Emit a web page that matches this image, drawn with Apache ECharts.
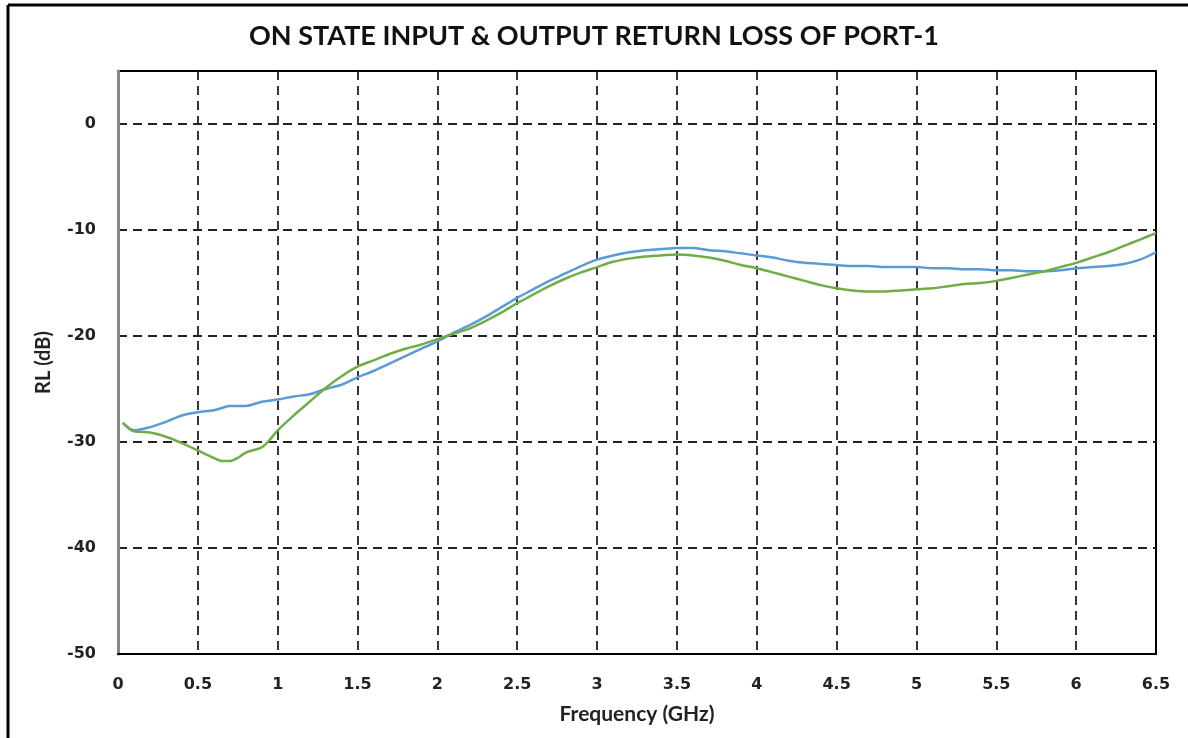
<!DOCTYPE html>
<html>
<head>
<meta charset="utf-8">
<script src="https://cdn.jsdelivr.net/npm/echarts@6/dist/echarts.min.js"></script>
<style>
  html, body { margin: 0; padding: 0; background: #fff; }
  #main { width: 1188px; height: 738px; }
</style>
</head>
<body>
<div id="main"></div>
<script>
// frequency points (GHz)
var freq = [0.03,0.1,0.2,0.3,0.4,0.5,0.6,0.65,0.7,0.75,0.8,0.9,0.95,1.0,1.1,1.2,1.3,1.4,1.5,1.6,1.7,1.8,1.9,2.0,
  2.1,2.2,2.3,2.4,2.5,2.6,2.7,2.8,2.9,3.0,3.1,3.2,3.3,3.4,3.5,3.6,3.7,3.8,3.9,4.0,4.1,4.2,4.3,4.4,4.5,4.6,4.7,
  4.8,4.9,5.0,5.1,5.2,5.3,5.4,5.5,5.6,5.7,5.8,5.9,6.0,6.1,6.2,6.3,6.4,6.5];

// blue trace (dB)
var rlBlue = [-28.2,-28.9,-28.6,-28.1,-27.5,-27.2,-27.0,-26.8,-26.6,-26.6,-26.6,-26.2,-26.1,-26.0,-25.7,-25.5,-25.0,-24.6,-23.9,-23.3,-22.6,-21.9,-21.2,-20.5,
  -19.7,-19.0,-18.2,-17.3,-16.4,-15.6,-14.8,-14.1,-13.4,-12.8,-12.4,-12.1,-11.9,-11.8,-11.7,-11.7,-11.9,-12.0,-12.2,-12.4,-12.6,-12.9,-13.1,-13.2,-13.3,-13.4,-13.4,
  -13.5,-13.5,-13.5,-13.6,-13.6,-13.7,-13.7,-13.8,-13.8,-13.9,-13.9,-13.8,-13.6,-13.5,-13.4,-13.2,-12.8,-12.1];

// green trace (dB)
var rlGreen = [-28.2,-29.0,-29.1,-29.5,-30.1,-30.8,-31.5,-31.8,-31.8,-31.5,-31.0,-30.5,-29.8,-28.9,-27.5,-26.2,-24.9,-23.8,-22.9,-22.3,-21.7,-21.2,-20.8,-20.3,
  -19.8,-19.3,-18.6,-17.8,-16.9,-16.1,-15.3,-14.6,-14.0,-13.5,-13.0,-12.7,-12.5,-12.4,-12.3,-12.4,-12.6,-12.9,-13.3,-13.6,-14.0,-14.4,-14.8,-15.2,-15.5,-15.7,-15.8,
  -15.8,-15.7,-15.6,-15.5,-15.3,-15.1,-15.0,-14.8,-14.5,-14.2,-13.9,-13.5,-13.1,-12.6,-12.1,-11.5,-10.9,-10.3];

function pairs(xs, ys) {
  return xs.map(function (x, i) { return [x, ys[i]]; });
}

var myChart = echarts.init(document.getElementById('main'));

var gridLine = { show: true, showMaxLine: false, lineStyle: { color: '#222', width: 1.8, type: [9, 6] } };
var tickFont = { color: '#222', fontFamily: 'DejaVu Sans', fontWeight: 'bold', fontSize: 16 };

var option = {
  backgroundColor: '#fff',
  animation: false,
  title: {
    text: 'ON STATE INPUT & OUTPUT RETURN LOSS OF PORT-1',
    left: 'center',
    top: 18,
    textStyle: { fontFamily: 'Lato', fontWeight: 'bold', fontSize: 27, color: '#111' }
  },
  graphic: [
    { type: 'line', shape: { x1: 8, y1: 5, x2: 1188, y2: 5 }, style: { stroke: '#000', lineWidth: 3 } },
    { type: 'line', shape: { x1: 8, y1: 5, x2: 8, y2: 738 }, style: { stroke: '#000', lineWidth: 3 } }
  ],
  grid: {
    left: 118, right: 32, top: 71, bottom: 84,
    show: true, borderColor: '#000', borderWidth: 2
  },
  xAxis: {
    type: 'value',
    min: 0, max: 6.5, interval: 0.5,
    name: 'Frequency (GHz)',
    nameLocation: 'middle',
    nameGap: 50,
    nameTextStyle: { fontFamily: 'Lato', fontWeight: 'bold', fontSize: 21, color: '#222' },
    axisLine: { show: true, onZero: false, lineStyle: { color: '#000', width: 2 } },
    axisTick: { show: false },
    axisLabel: Object.assign({ margin: 23 }, tickFont),
    splitLine: gridLine
  },
  yAxis: {
    type: 'value',
    min: -50, max: 5, interval: 10,
    name: 'RL (dB)',
    nameLocation: 'middle',
    nameGap: 64,
    nameTextStyle: { fontFamily: 'Lato', fontWeight: 'bold', fontSize: 20, color: '#222' },
    axisLine: { show: true, onZero: false, lineStyle: { color: '#888', width: 3 } },
    axisTick: { show: false },
    axisLabel: Object.assign({ margin: 22, showMaxLabel: false }, tickFont),
    splitLine: gridLine
  },
  series: [
    {
      type: 'line',
      data: pairs(freq, rlBlue),
      showSymbol: false,
      smooth: 0.3,
      lineStyle: { color: '#5B9BD5', width: 2.5 },
      z: 3
    },
    {
      type: 'line',
      data: pairs(freq, rlGreen),
      showSymbol: false,
      smooth: 0.3,
      lineStyle: { color: '#70AD47', width: 2.5 },
      z: 4
    }
  ]
};

myChart.setOption(option);
</script>
</body>
</html>
